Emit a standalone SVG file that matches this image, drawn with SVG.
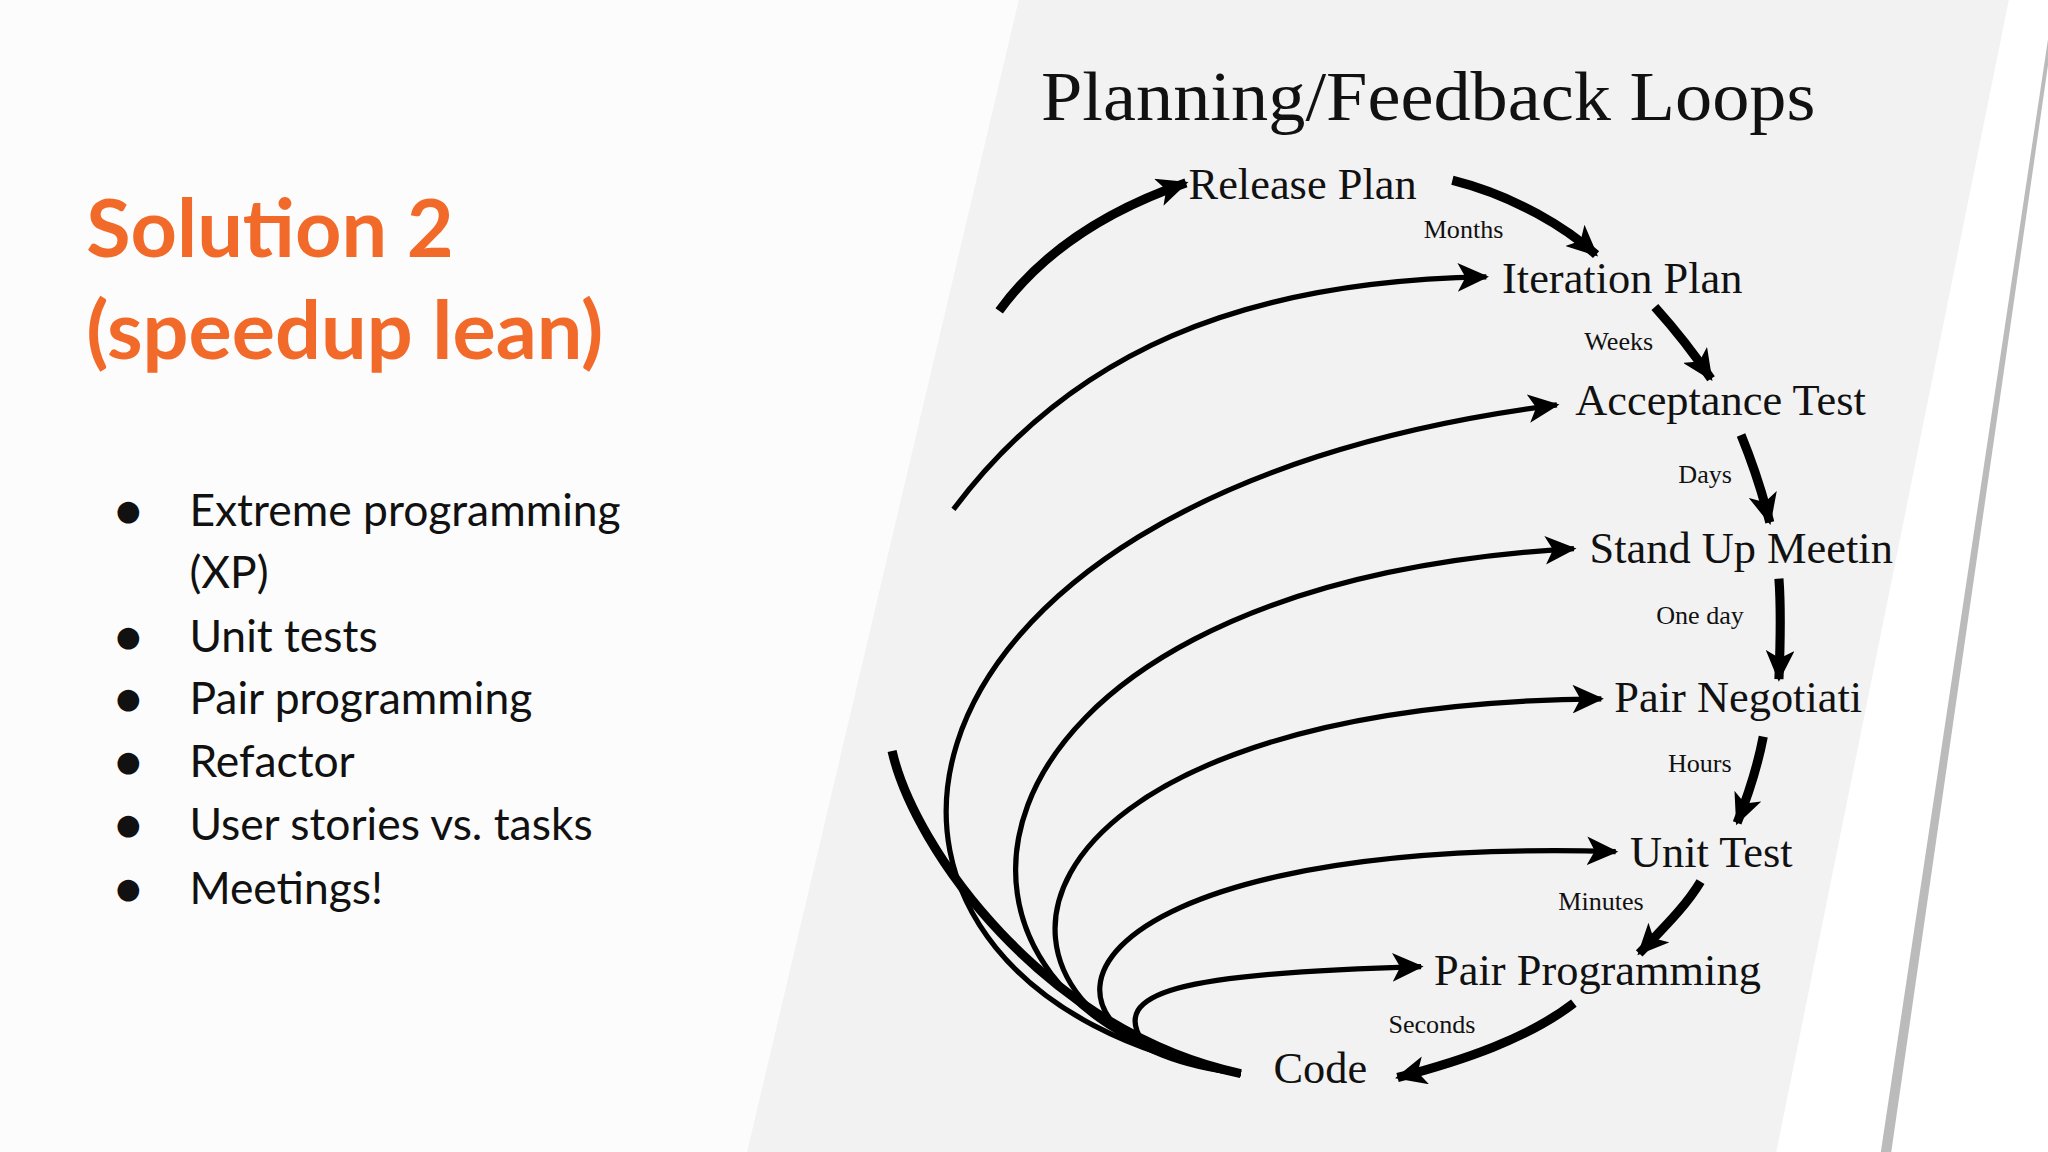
<svg xmlns="http://www.w3.org/2000/svg" width="2048" height="1152" viewBox="0 0 2048 1152">
<defs>
<style>
.t{font-family:"Lato","Open Sans",sans-serif;fill:#f26a2a;font-weight:bold;font-size:62px}
.b{font-family:"Lato","Open Sans",sans-serif;fill:#111;font-size:34px}
.s{font-family:"Liberation Serif",serif;fill:#111}
.n{font-size:34px}
.l{font-size:20px}
.a{fill:none;stroke:#000;stroke-width:4;marker-end:url(#ah)}
.d{fill:none;stroke:#000;stroke-width:7;marker-end:url(#ah)}
</style>
<marker id="ah" markerUnits="userSpaceOnUse" markerWidth="26" markerHeight="22" refX="22" refY="11" orient="auto" viewBox="0 0 26 22">
<path d="M0,0 L24,11 L0,22 L6,11 Z" fill="#000"/>
</marker>
</defs>
<rect width="2048" height="1152" fill="#fff"/>
<g transform="scale(1.30612)">
<rect width="780" height="882" fill="#fcfcfc"/>
<polygon points="780,0 1538,0 1360,882 572,882" fill="#f2f2f2"/>
<polygon points="1568,30 1568,50 1448,882 1440,882" fill="#bbb"/>
<g id="left">
<text class="t" x="66" y="197">Solution 2</text>
<text class="t" x="66" y="275">(speedup lean)</text>
<g class="b">
<text x="88" y="403">●</text><text x="145" y="403">Extreme programming</text>
<text x="145" y="450">(XP)</text>
<text x="88" y="499">●</text><text x="145" y="499">Unit tests</text>
<text x="88" y="547">●</text><text x="145" y="547">Pair programming</text>
<text x="88" y="595">●</text><text x="145" y="595">Refactor</text>
<text x="88" y="643">●</text><text x="145" y="643">User stories vs. tasks</text>
<text x="88" y="692">●</text><text x="145" y="692">Meetings!</text>
</g>
</g>
<text class="s" x="797" y="92" font-size="54" textLength="593" lengthAdjust="spacingAndGlyphs">Planning/Feedback Loops</text>
<g id="connectors">
<path class="d" d="M1112,138 C1160,150 1200,175 1222,195"/>
<path class="d" d="M1267,235 C1285,255 1298,272 1310,290"/>
<path class="d" d="M1333,333 C1342,355 1350,380 1355,400"/>
<path class="d" d="M1362,443 C1364,470 1363,495 1362,520"/>
<path class="d" d="M1350,564 C1345,590 1338,610 1330,630"/>
<path class="d" d="M1302,675 C1290,695 1272,712 1255,730"/>
<path class="d" d="M1205,768 C1170,795 1120,812 1070,825"/>
<path fill="none" stroke="#000" stroke-width="7" d="M683,575 C700,650 800,790 950,822"/>
<path class="d" d="M765,238 C800,190 850,160 908,140"/>
<path class="a" d="M730,390 C820,270 950,215 1138,212"/>
<path class="a" d="M950,822 C600,760 640,380 1192,310"/>
<path class="a" d="M950,822 C680,780 700,450 1205,420"/>
<path class="a" d="M950,822 C720,790 740,540 1226,535"/>
<path class="a" d="M950,822 C760,800 800,640 1237,652"/>
<path class="a" d="M875,798 C850,760 900,745 1088,740"/>
</g>
<g class="s">
<text id="n-release" class="n" x="910" y="152">Release Plan</text>
<text id="n-iteration" class="n" x="1150" y="224">Iteration Plan</text>
<text id="n-acceptance" class="n" x="1206" y="318">Acceptance Test</text>
<text id="n-standup" class="n" x="1217" y="431">Stand Up Meetin</text>
<text id="n-pairneg" class="n" x="1236" y="545">Pair Negotiati</text>
<text id="n-unit" class="n" x="1248" y="664">Unit Test</text>
<text id="n-pairprog" class="n" x="1098" y="754">Pair Programming</text>
<text id="n-code" class="n" x="975" y="829">Code</text>
<text class="l" x="1090" y="182">Months</text>
<text class="l" x="1213" y="268">Weeks</text>
<text class="l" x="1285" y="370">Days</text>
<text class="l" x="1268" y="478">One day</text>
<text class="l" x="1277" y="591">Hours</text>
<text class="l" x="1193" y="697">Minutes</text>
<text class="l" x="1063" y="791">Seconds</text>
</g>
</g>
</svg>
